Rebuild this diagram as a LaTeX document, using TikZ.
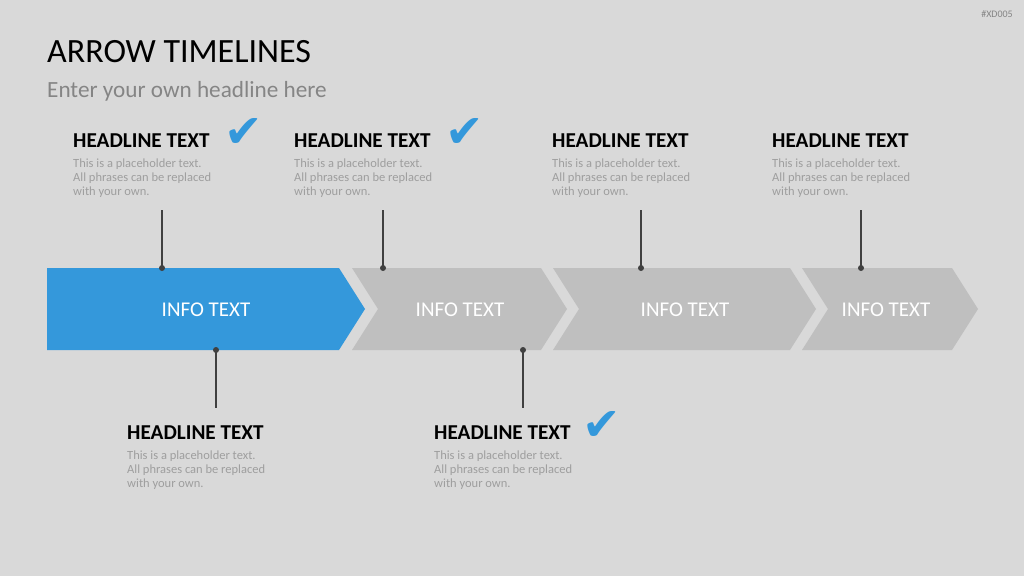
\documentclass[tikz,border=0pt]{standalone}
\usepackage{fontspec}
\setmainfont{Carlito}
\newfontfamily\symfont{DejaVu Sans}
\usepackage{xcolor}
\usetikzlibrary{positioning}
\definecolor{TlBack}{HTML}{D9D9D9}
\definecolor{TlBlue}{HTML}{3498DB}
\definecolor{TlChevron}{HTML}{BFBFBF}
\definecolor{TlMuted}{HTML}{858585}
\definecolor{TlBody}{HTML}{9E9E9E}
\definecolor{TlStem}{HTML}{404040}
\newcommand{\tlbody}{This is a placeholder text.\\All phrases can be replaced\\with your own.}

\tikzset{
  headline/.style={anchor=base west, inner sep=0pt, font=\fontsize{21.2}{24}\selectfont\bfseries},
  bodytext/.style={anchor=base west, inner sep=0pt, align=left, text=TlBody,
                   font=\fontsize{12.5}{14}\selectfont},
  stemdot/.style={circle, fill=TlStem, inner sep=0pt, minimum size=6pt},
  stem/.style={draw=TlStem, line width=1.2pt},
  tick/.style={text=TlBlue, inner sep=0pt, font=\symfont\fontsize{46}{46}\selectfont},
  infotext/.style={text=white, inner sep=0pt, font=\fontsize{21}{24}\selectfont},
}

\begin{document}
\begin{tikzpicture}[x=1pt,y=-1pt]
  \fill[TlBack] (0,0) rectangle (1024,576);
  \useasboundingbox (0,0) rectangle (1024,576);

  % title block
  \node[anchor=base west, inner sep=0pt, font=\fontsize{34}{40}\selectfont] (title) at (47,62) {ARROW TIMELINES};
  \node[anchor=base west, inner sep=0pt, text=TlMuted, font=\fontsize{23.2}{28}\selectfont] (subtitle) at (47,97) {Enter your own headline here};
  \node[anchor=base east, inner sep=0pt, text=TlMuted, font=\fontsize{10}{11}\selectfont] (tag) at (1013,17) {\#XD005};

  % chevrons
  \fill[TlBlue] (47,268) -- (339,268) -- (365,309) -- (339,350) -- (47,350) -- cycle;
  \foreach \l/\r in {352/541, 553/790, 802/952}
    \fill[TlChevron] (\l,268) -- (\r,268) -- (\r+26,309) -- (\r,350) -- (\l,350) -- (\l+26,309) -- cycle;
  \foreach \c/\n in {206/1, 460/2, 685/3, 886/4}
    \node[infotext] (info\n) at (\c,310) {INFO TEXT};

  % milestones above
  \foreach \x/\s/\n in {73/162/1, 294/383/2, 552/641/3, 772/861/4} {
    \node[headline] (head\n) at (\x,147) {HEADLINE TEXT};
    \node[bodytext] (body\n) at (\x,195) {\tlbody};
    \coordinate (top\n) at (\s,210);
    \node[stemdot] (dot\n) at (\s,268) {};
    \draw[stem] (top\n) -- (dot\n.center);
  }

  % milestones below
  \foreach \x/\s/\n in {127/216/5, 434/523/6} {
    \node[headline] (head\n) at (\x,439) {HEADLINE TEXT};
    \node[bodytext] (body\n) at (\x,487) {\tlbody};
    \coordinate (top\n) at (\s,408);
    \node[stemdot] (dot\n) at (\s,350) {};
    \draw[stem] (dot\n.center) -- (top\n);
  }

  % done marks
  \node[tick] (tick1) at (244,133) {✔};
  \node[tick] (tick2) at (465,133) {✔};
  \node[tick] (tick6) at (602,426) {✔};
\end{tikzpicture}
\end{document}
